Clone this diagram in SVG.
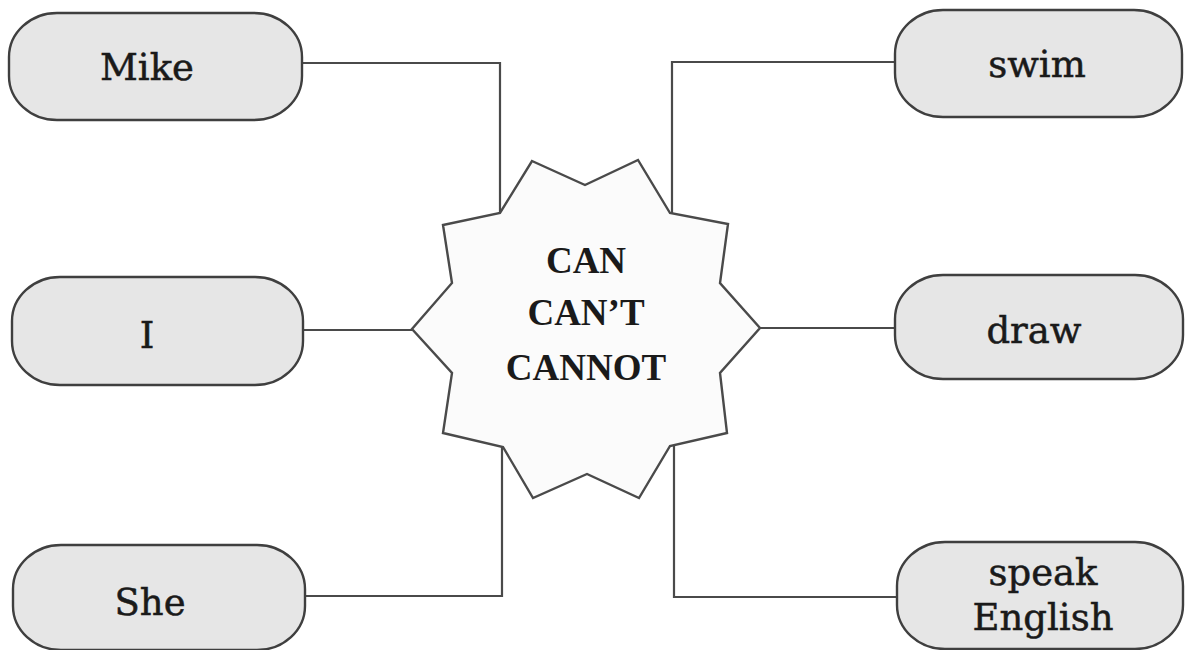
<svg xmlns="http://www.w3.org/2000/svg" width="1185" height="650" viewBox="0 0 1185 650">
  <style>
    .box { fill: #e6e6e6; stroke: #3f3f3f; stroke-width: 2.4; }
    .lbl { font-family: "DejaVu Serif", "Liberation Serif", serif; font-size: 37px; fill: #1a1a1a; stroke: #1a1a1a; stroke-width: 0.5; text-anchor: middle; }
    .ctr { font-family: "Liberation Serif", serif; font-weight: bold; font-size: 37px; fill: #1a1a1a; text-anchor: middle; }
    .con { fill: none; stroke: #4a4a4a; stroke-width: 2.2; }
    .star { fill: #fbfbfb; stroke: #4a4a4a; stroke-width: 2.4; stroke-linejoin: miter; }
  </style>
  <rect width="1185" height="650" fill="#ffffff"/>
  <g id="connectors">
    <polyline class="con" points="302,63 500,63 500,213"/>
    <polyline class="con" points="303,330 412,330"/>
    <polyline class="con" points="305,596 502,596 502,447"/>
    <polyline class="con" points="895,62 672,62 672,213"/>
    <polyline class="con" points="760,328 895,328"/>
    <polyline class="con" points="897,597 674,597 674,446"/>
  </g>
  <g id="center">
    <polygon class="star" points="532,161 585,185 638,160 670,213 728,224 720,283 760,328 720,373 727,433 670,446 639,498 587,474 533,498 503,447 443,433 452,373 412,329 452,283 443,225 500,213"/>
    <text class="ctr" x="586" y="273">CAN</text>
    <text class="ctr" x="586" y="325">CAN’T</text>
    <text class="ctr" x="586" y="380">CANNOT</text>
  </g>
  <g id="mike">
    <rect class="box" x="9" y="13" width="293" height="107" rx="48" ry="44"/>
    <text class="lbl" x="147" y="80">Mike</text>
  </g>
  <g id="i">
    <rect class="box" x="12" y="277" width="291" height="108" rx="48" ry="44"/>
    <text class="lbl" x="147" y="348">I</text>
  </g>
  <g id="she">
    <rect class="box" x="13" y="545" width="292" height="105" rx="48" ry="44"/>
    <text class="lbl" x="150" y="615">She</text>
  </g>
  <g id="swim">
    <rect class="box" x="895" y="10" width="287" height="107" rx="48" ry="44"/>
    <text class="lbl" x="1037" y="77">swim</text>
  </g>
  <g id="draw">
    <rect class="box" x="895" y="275" width="288" height="104" rx="48" ry="44"/>
    <text class="lbl" x="1034" y="343">draw</text>
  </g>
  <g id="speak">
    <rect class="box" x="897" y="542" width="286" height="107" rx="48" ry="44"/>
    <text class="lbl" x="1043" y="585">speak</text>
    <text class="lbl" x="1043" y="630">English</text>
  </g>
</svg>
